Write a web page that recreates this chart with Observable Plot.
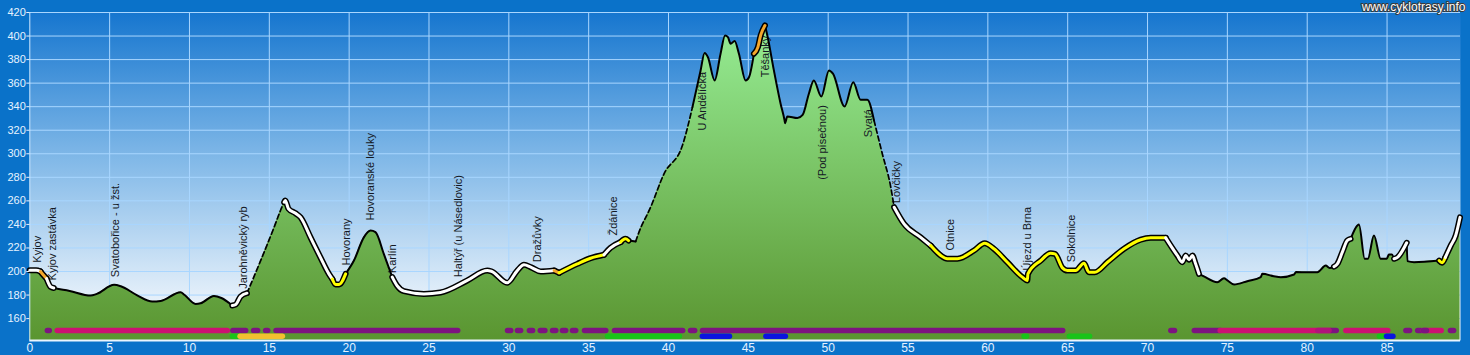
<!DOCTYPE html>
<html><head><meta charset="utf-8">
<script src="https://cdn.jsdelivr.net/npm/d3@7"></script>
<script src="https://cdn.jsdelivr.net/npm/@observablehq/plot@0.6"></script>
<style>
html,body{margin:0;padding:0;background:#0a72c9;}
#chart{position:relative;width:1470px;height:355px;overflow:hidden}
</style></head><body><div id="chart"></div>
<script>
// elevation profile (km, m)
const profileKm = [0,0.4,0.67,0.85,1.05,1.3,1.5,2.5,3.8,4.2,5.28,5.7,6.7,7.67,8.2,9.44,9.7,10.38,10.7,11.53,12.0,12.68,12.9,13.2,13.6,14.45,15.3,15.7,15.93,16.0,16.2,16.64,16.96,17.58,18.2,18.73,18.95,19.15,19.37,19.78,20.3,20.92,21.34,21.65,22.17,22.7,23.0,23.43,24.68,25.72,27.4,28.65,28.9,29.9,30.53,30.95,31.4,32.0,32.84,33.15,34.29,35.12,35.96,36.37,37.0,37.3,37.5,37.94,38.15,38.88,39.72,40.87,41.5,42.01,42.26,42.47,42.89,43.26,43.54,43.72,43.89,44.14,44.41,44.83,45.04,45.35,45.6,45.77,46.04,46.19,46.6,47.02,47.27,47.3,47.44,48.07,48.4,48.79,49.1,49.57,50.05,50.3,51.03,51.57,52.03,52.45,52.87,53.39,53.92,54.13,54.75,55.79,56.42,57.05,57.46,58.09,59.13,59.8,60.38,61.22,62.16,62.47,62.51,63.31,63.93,64.2,64.67,64.98,65.5,66.02,66.33,66.7,67.49,68.53,69.57,70.2,71.14,71.45,71.87,72.18,72.39,72.6,72.81,73.0,73.22,73.53,74.37,74.79,75.0,75.42,76.25,77.09,77.19,77.9,78.35,79.18,79.3,80.01,80.64,81.16,81.4,81.68,81.89,82.2,82.51,82.72,83.14,83.24,83.6,83.8,84.18,84.6,84.98,85.12,85.3,85.44,85.65,86.23,86.28,86.69,88.26,88.45,88.65,88.99,89.3,89.57];
const profileElev = [201,201,200,197,194,187,186,183.5,179.6,181,188.7,187.5,180,174.5,175,182.4,180,172.5,173,179.3,177.5,171.1,172,178.8,181.6,209,237.6,251.8,258.9,260.3,253.3,249.5,246,229,212,198,193.5,189,189,198,209.3,229,234.8,233.4,215,195.2,188,183.3,181,182.2,192.4,200.8,200.2,190.4,200.8,205.7,203.5,200,200.8,198.9,206.5,211.3,214.2,220.1,225,227.8,226.3,225.5,233.4,254.6,283,307,339.6,370.8,385.5,382,362.3,385,400.5,399,393.5,395.7,385,362.3,365,385,390.6,400.5,409,400.5,370.8,342.5,328.3,326,331.7,330.3,333,351,362.3,348.7,370.8,368,340.2,360.8,345.9,345.9,328.3,300,271.6,254.6,240.5,229,222,213.6,210.8,210.8,217.8,224,219.3,207.9,195.2,192.4,198,209.3,215.5,215,203.1,200.8,200.8,207,199.4,199.4,207.9,219.3,227,228.6,228.6,222,213.6,207.9,213.6,210,213.6,207,198,195.8,190.9,194.3,192.5,189,191.8,195.2,198,196,195.2,197.5,199.5,199.4,199.4,205,203,204.2,206.5,216.4,226.3,227.7,239,239.9,210.8,210.8,230.6,210.8,210.8,214.4,214.4,210.8,212,224.4,208.8,207.9,209.3,207.5,212,222,230.6,246];

// line style segments along the route
const segStart = [0,0.67,1.05,1.5,12.68,13.6,15.93,18.95,19.78,22.7,32.84,33.15,35.96,37.0,37.5,37.94,41.5,45.35,46.04,52.87,54.13,56.42,71.14,73.22,81.68,82.72,85.44,86.23,88.26,88.65];
const segEnd   = [0.67,1.05,1.5,12.68,13.6,15.93,18.95,19.78,22.7,32.84,33.15,35.96,37.0,37.5,37.94,41.5,45.35,46.04,52.87,54.13,56.42,71.14,73.22,81.68,82.72,85.44,86.23,88.26,88.65,89.57];
const segStyle = ["white","orange","white","black","white","dash","white","yellow","black","white","orange","yellow","white","yellow","black","dash","black","orange","black","dash","white","yellow","white","black","white","black","white","black","yellow","white"];

// surface bars (row 0 upper, row 1 lower)
const barRow   = [0,0,0,0,0,0,0,0,0,0,0,0,0,0,0,0,0,0,0,0,0,0,0,0,0,0,0,0, 1,1,1,1,1,1,1,1,1];
const barStart = [1.13,1.75,12.75,14.05,14.8,15.45,29.95,30.57,31.32,32.0,32.77,33.39,34.02,34.77,36.65,41.41,42.16,71.49,72.96,74.58,81.5,82.45,86.21,86.95,87.3,87.3,89.0,80.7, 12.72,13.2,36.21,42.15,46.13,62.3,65.13,84.55,85.0];
const barEnd   = [1.25,12.4,13.55,14.3,14.93,26.83,30.15,30.77,31.52,32.29,32.97,33.59,34.22,36.1,40.92,41.67,64.72,71.72,74.58,81.5,81.85,85.08,86.44,87.15,88.42,87.5,89.2,81.4, 13.2,15.85,40.71,43.85,47.35,62.45,66.4,85.0,85.4];
const barKind  = ["purple","magenta","purple","purple","purple","purple","purple","purple","purple","purple","purple","purple","purple","purple","purple","purple","purple","purple","purple","magenta","purple","magenta","purple","purple","magenta","purple","purple","magenta2", "green","orange","green","blue","blue","green","green","green","blue"];

// place names
const labelText = ["Kyjov","Kyjov zastávka","Svatobořice - u žst.","Jarohněvický ryb","Hovorany","Hovoranské louky","Karlín","Haltýř (u Násedlovic)","Dražůvky","Ždánice","U Andělíčka","Těšanky","(Pod písečnou)","Svatá","Lovčičky","Otnice","Újezd u Brna","Sokolnice"];
const labelKm   = [0.5,1.4,5.37,13.37,19.82,21.34,22.74,26.87,31.78,36.58,42.12,46.08,49.63,52.55,54.29,57.67,62.48,65.25];
const labelElev = [207.5,192.4,195.2,185.3,205.1,243.3,198.6,195.2,207.9,230.6,319.8,365,277.9,314.1,258,217.8,200.8,207.9];

const xTicks = [0,5,10,15,20,25,30,35,40,45,50,55,60,65,70,75,80,85];
const yTicks = [160,180,200,220,240,260,280,300,320,340,360,380,400,420];
const xDomain = [0, 89.6];
const yDomain = [141.4, 420];
const rowElev = [150, 145];
const creditText = ["www.cyklotrasy.info"];

const lineColors = {white:"#ffffff", yellow:"#ffff00", orange:"#f4a72c"};
const barColors = {purple:"#7d1480", magenta:"#cc1172", magenta2:"#b0137a", green:"#19c319", orange:"#f2c02e", blue:"#0a14e0"};

const profile = profileKm.map((k, i) => ({km: k, elev: profileElev[i]}));
const segPts = [];
segStart.forEach((s, i) => {
  profile.filter(p => p.km >= s && p.km <= segEnd[i])
    .forEach(p => segPts.push({...p, seg: i, style: segStyle[i]}));
});
const thin = segPts.filter(d => d.style === "black");
const dashed = segPts.filter(d => d.style === "dash");
const thick = segPts.filter(d => lineColors[d.style]);
const bars = barRow.map((r, i) => ({row: r, start: barStart[i], end: barEnd[i], kind: barKind[i]}));
const labels = labelText.map((t, i) => ({text: t, km: labelKm[i], elev: labelElev[i]}));

const font = "'Liberation Sans', Arial, Helvetica, sans-serif";
const curve = "monotone-x";

const chart = Plot.plot({
  width: 1470, height: 355,
  marginLeft: 29.3, marginRight: 10, marginTop: 12, marginBottom: 15,
  x: {domain: xDomain},
  y: {domain: yDomain},
  style: {background: "transparent", fontFamily: font, overflow: "visible"},
  marks: [
    Plot.frame({fill: "url(#skyGrad)", stroke: null}),
    Plot.gridX(xTicks.filter(t => t > 0), {stroke: "#a9d6ff", strokeOpacity: 1, strokeWidth: 1}),
    Plot.gridY(yTicks, {stroke: "#a9d6ff", strokeOpacity: 1, strokeWidth: 1}),
    Plot.areaY(profile, {x: "km", y1: yDomain[0], y2: "elev", fill: "url(#greenGrad)", curve}),
    Plot.ruleY([yDomain[0]], {stroke: "#eaf5ff", strokeWidth: 2}),
    Plot.ruleX([0], {stroke: "#cfe8ff", strokeWidth: 1}),
    Plot.ruleY(bars, {y: d => rowElev[d.row], x1: "start", x2: "end", stroke: d => barColors[d.kind], strokeWidth: 5.5, strokeLinecap: "round"}),
    Plot.text(labels, {x: "km", y: "elev", text: "text", rotate: -90, textAnchor: "start", lineAnchor: "middle", fontSize: 11, fill: "#141824"}),
    Plot.line(thin, {x: "km", y: "elev", z: "seg", stroke: "#000", strokeWidth: 2, strokeLinejoin: "round", curve}),
    Plot.line(dashed, {x: "km", y: "elev", z: "seg", stroke: "#000", strokeWidth: 1.7, strokeDasharray: "5,3", curve}),
    Plot.line(thick, {x: "km", y: "elev", z: "seg", stroke: "#000", strokeWidth: 6, strokeLinejoin: "round", strokeLinecap: "round", curve}),
    Plot.line(thick, {x: "km", y: "elev", z: "seg", stroke: d => lineColors[d.style], strokeWidth: 3, strokeLinejoin: "round", strokeLinecap: "round", curve}),
    Plot.axisX({ticks: xTicks, tickSize: 0, tickPadding: 3, label: null, color: "#e6f2ff", fontSize: 12}),
    Plot.axisY({ticks: yTicks, tickSize: 3, tickPadding: 1, label: null, color: "#e6f2ff", fontSize: 11}),
    Plot.text(creditText, {frameAnchor: "top-right", dx: 5, dy: -5, textAnchor: "end", lineAnchor: "middle", fontSize: 12, fill: "#ffffff", stroke: "#3a3a3a", strokeWidth: 2, paintOrder: "stroke"})
  ]
});

const ys = chart.scale("y");
const svg = d3.select(chart);
const defs = svg.insert("defs", ":first-child");
const sky = defs.append("linearGradient").attr("id", "skyGrad").attr("x1", 0).attr("x2", 0).attr("y1", 0).attr("y2", 1);
sky.append("stop").attr("offset", 0).attr("stop-color", "#1676cf");
sky.append("stop").attr("offset", 0.45).attr("stop-color", "#82b9e8");
sky.append("stop").attr("offset", 0.92).attr("stop-color", "#f0f6fc");
sky.append("stop").attr("offset", 1).attr("stop-color", "#f8fbff");
const green = defs.append("linearGradient").attr("id", "greenGrad").attr("gradientUnits", "userSpaceOnUse")
  .attr("x1", 0).attr("x2", 0).attr("y1", ys.apply(yDomain[1])).attr("y2", ys.apply(yDomain[0]));
green.append("stop").attr("offset", 0).attr("stop-color", "#98f098");
green.append("stop").attr("offset", 1).attr("stop-color", "#5a9530");

document.getElementById("chart").appendChild(chart);
</script></body></html>
